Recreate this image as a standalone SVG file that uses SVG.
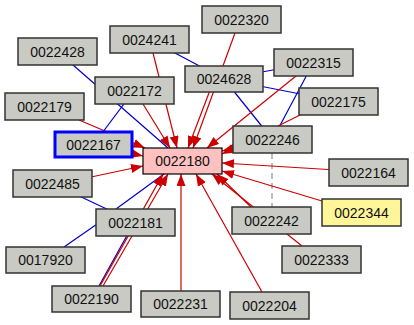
<svg xmlns="http://www.w3.org/2000/svg" width="414" height="325" viewBox="0 0 414 325">
<style>
.n rect{fill:#c8cac3;stroke:#333;stroke-width:1.5}
.n text{font-family:"Liberation Sans",Arial,sans-serif;font-size:14px;fill:#111;text-anchor:middle}
.r{stroke:#cc0000;stroke-width:1.2;fill:none;marker-end:url(#ah)}
.b{stroke:#0000cc;stroke-width:1.2;fill:none}
.g{stroke:#a0a0a0;stroke-width:1.4;stroke-dasharray:6,4;fill:none}
</style>
<defs>
<marker id="ah" markerUnits="userSpaceOnUse" markerWidth="13" markerHeight="10" refX="12" refY="4.5" orient="auto">
<path d="M0,0 L12,4.5 L0,9 z" fill="#cc0000"/>
</marker>
</defs>
<rect width="414" height="325" fill="#ffffff"/>
<g id="connectors">
<line class="g" x1="272" y1="153" x2="272" y2="207"/>
<line class="b" x1="73" y1="65" x2="168" y2="148"/>
<line class="b" x1="149.5" y1="39.5" x2="224" y2="79"/>
<line class="b" x1="134" y1="90.5" x2="93.5" y2="144.5"/>
<line class="b" x1="224" y1="79" x2="313.5" y2="62.5"/>
<line class="b" x1="224" y1="79" x2="338.5" y2="101.5"/>
<line class="b" x1="224" y1="79" x2="272.5" y2="139.5"/>
<line class="b" x1="313.5" y1="62.5" x2="272.5" y2="139.5"/>
<line class="b" x1="52.5" y1="183.5" x2="135.5" y2="222.5"/>
<line class="b" x1="116" y1="209" x2="164" y2="174"/>
<line class="b" x1="100" y1="222" x2="64" y2="247"/>
<line class="b" x1="130" y1="230" x2="99" y2="286"/>
<line class="r" x1="235" y1="33" x2="193" y2="148"/>
<line class="r" x1="212" y1="85" x2="188" y2="148"/>
<line class="r" x1="153" y1="53" x2="177" y2="148"/>
<line class="r" x1="143" y1="104" x2="170" y2="148"/>
<line class="r" x1="79" y1="120" x2="145" y2="148"/>
<line class="r" x1="93" y1="145" x2="143" y2="156"/>
<line class="r" x1="296" y1="76" x2="207" y2="148"/>
<line class="r" x1="272" y1="140" x2="222" y2="151"/>
<line class="r" x1="302" y1="114" x2="222" y2="154"/>
<line class="r" x1="369" y1="172" x2="222" y2="163"/>
<line class="r" x1="322" y1="201" x2="222" y2="171"/>
<line class="r" x1="251" y1="207" x2="217" y2="174"/>
<line class="r" x1="302" y1="246" x2="212" y2="174"/>
<line class="r" x1="262" y1="292" x2="196" y2="174"/>
<line class="r" x1="181" y1="291" x2="181" y2="174"/>
<line class="r" x1="100" y1="286" x2="163" y2="174"/>
<line class="r" x1="103" y1="286" x2="168" y2="174"/>
<line class="r" x1="91" y1="177" x2="143" y2="166"/>
</g>
<g id="n0022320" class="n"><rect x="202" y="6" width="79" height="27"/><text x="241.5" y="24.5">0022320</text></g>
<g id="n0024241" class="n"><rect x="110" y="26" width="79" height="27"/><text x="149.5" y="44.5">0024241</text></g>
<g id="n0022428" class="n"><rect x="18" y="38" width="79" height="27"/><text x="57.5" y="56.5">0022428</text></g>
<g id="n0024628" class="n"><rect x="185" y="66" width="78" height="26"/><text x="224" y="84">0024628</text></g>
<g id="n0022315" class="n"><rect x="274" y="49" width="79" height="27"/><text x="313.5" y="67.5">0022315</text></g>
<g id="n0022175" class="n"><rect x="299" y="88" width="79" height="27"/><text x="338.5" y="106.5">0022175</text></g>
<g id="n0022172" class="n"><rect x="95" y="77" width="79" height="27"/><text x="134.5" y="95.5">0022172</text></g>
<g id="n0022179" class="n"><rect x="5" y="93" width="79" height="27"/><text x="44.5" y="111.5">0022179</text></g>
<g id="n0022167" class="n"><rect x="55" y="132" width="77" height="25" style="stroke:#0000ff;stroke-width:3"/><text x="93.5" y="149.5">0022167</text></g>
<g id="n0022246" class="n"><rect x="233" y="126" width="79" height="27"/><text x="272.5" y="144.5">0022246</text></g>
<g id="n0022180" class="n"><rect x="143" y="148" width="79" height="26" style="fill:#ffc0c0;stroke:#000;stroke-width:1.2"/><text x="182.5" y="166">0022180</text></g>
<g id="n0022164" class="n"><rect x="329" y="159" width="79" height="27"/><text x="368.5" y="177.5">0022164</text></g>
<g id="n0022344" class="n"><rect x="322" y="199" width="79" height="27" style="fill:#fff599"/><text x="361.5" y="217.5">0022344</text></g>
<g id="n0022242" class="n"><rect x="232" y="207" width="79" height="27"/><text x="271.5" y="225.5">0022242</text></g>
<g id="n0022333" class="n"><rect x="282" y="246" width="79" height="27"/><text x="321.5" y="264.5">0022333</text></g>
<g id="n0022204" class="n"><rect x="230" y="292" width="79" height="27"/><text x="269.5" y="310.5">0022204</text></g>
<g id="n0022485" class="n"><rect x="13" y="170" width="79" height="27"/><text x="52.5" y="188.5">0022485</text></g>
<g id="n0022181" class="n"><rect x="96" y="209" width="79" height="27"/><text x="135.5" y="227.5">0022181</text></g>
<g id="n0017920" class="n"><rect x="6" y="247" width="79" height="26"/><text x="45.5" y="265">0017920</text></g>
<g id="n0022190" class="n"><rect x="52" y="286" width="79" height="26"/><text x="91.5" y="304">0022190</text></g>
<g id="n0022231" class="n"><rect x="141" y="291" width="79" height="26"/><text x="180.5" y="309">0022231</text></g>
</svg>
